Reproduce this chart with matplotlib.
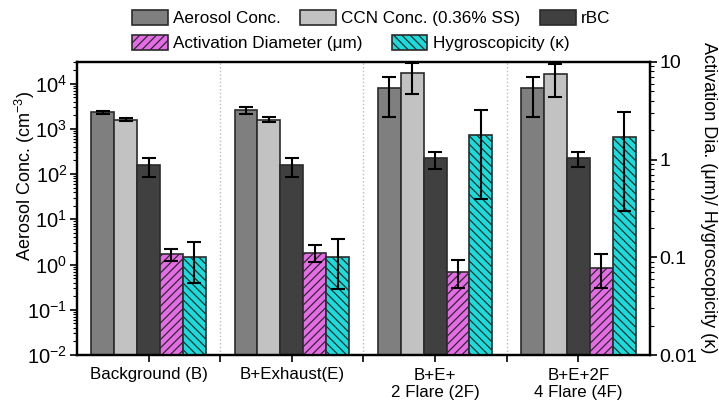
import matplotlib
matplotlib.use("Agg")
import matplotlib.pyplot as plt
from matplotlib.patches import Patch
from matplotlib.ticker import FixedLocator, LogLocator, NullFormatter
import numpy as np

plt.rcParams['font.family'] = ['Liberation Sans', 'DejaVu Sans']
plt.rcParams['mathtext.fontset'] = 'custom'
plt.rcParams['mathtext.rm'] = 'Liberation Sans'
plt.rcParams['mathtext.it'] = 'Liberation Sans:italic'
plt.rcParams['hatch.linewidth'] = 0.9

# scenarios
groups = ["Background (B)", "B+Exhaust(E)", "B+E+\n2 Flare (2F)", "B+E+2F\n4 Flare (4F)"]

# concentrations (cm^-3), left axis
aerosol = [2300, 2600, 7800, 7800]
aerosol_err = [200, 500, 6000, 6000]
ccn = [1600, 1600, 16800, 16000]
ccn_err = [100, 200, 11000, 11000]
rbc = [155, 155, 222, 222]
rbc_err = [70, 70, 90, 80]

# activation diameter (um) and kappa, right axis
act_dia = [0.107, 0.111, 0.071, 0.078]
act_dia_err = [0.016, 0.022, 0.022, 0.03]
kappa = [0.10, 0.10, 1.8, 1.7]
kappa_err = [0.045, 0.053, 1.4, 1.4]

c_aer = "#7f7f7f"
c_ccn = "#c2c2c2"
c_rbc = "#404040"
c_act = "#e66be6"
c_kap = "#19dcdc"
edge = "#2b2b2b"

fig = plt.figure(figsize=(7.19, 4.0), dpi=100)
ax = fig.add_axes([0.107, 0.1125, 0.797, 0.7325])
ax2 = ax.twinx()

x = np.arange(len(groups))
w = 0.16
ekw = dict(elinewidth=1.5, capthick=1.5, ecolor="black")
cap = 5

ax.bar(x - 2 * w, aerosol, w, yerr=aerosol_err, color=c_aer, edgecolor=edge,
       linewidth=1.2, capsize=cap, error_kw=ekw)
ax.bar(x - w, ccn, w, yerr=ccn_err, color=c_ccn, edgecolor=edge,
       linewidth=1.2, capsize=cap, error_kw=ekw)
ax.bar(x, rbc, w, yerr=rbc_err, color=c_rbc, edgecolor=edge,
       linewidth=1.2, capsize=cap, error_kw=ekw)
ax2.bar(x + w, act_dia, w, yerr=act_dia_err, color=c_act, edgecolor=edge,
        hatch="////", linewidth=1.2, capsize=cap, error_kw=ekw)
ax2.bar(x + 2 * w, kappa, w, yerr=kappa_err, color=c_kap, edgecolor=edge,
        hatch="\\\\\\\\", linewidth=1.2, capsize=cap, error_kw=ekw)

# dotted separators between scenarios
for s in [0.5, 1.5, 2.5]:
    ax.axvline(s, color="#bbbbbb", linestyle=":", linewidth=1.0, zorder=0)

ax.set_yscale("log")
ax.set_ylim(0.01, 3e4)
ax2.set_yscale("log")
ax2.set_ylim(0.01, 10)
ax.set_xlim(-0.5, 3.5)

ax.set_yticks([1e-2, 1e-1, 1, 10, 100, 1e3, 1e4])
ax.set_yticklabels(["$10^{-2}$", "$10^{-1}$", "$10^{0}$", "$10^{1}$",
                    "$10^{2}$", "$10^{3}$", "$10^{4}$"])
ax.yaxis.set_minor_locator(LogLocator(base=10, subs=np.arange(2, 10), numticks=20))
ax.yaxis.set_minor_formatter(NullFormatter())
ax2.set_yticks([0.01, 0.1, 1, 10])
ax2.set_yticklabels(["0.01", "0.1", "1", "10"])
ax2.yaxis.set_minor_locator(LogLocator(base=10, subs=np.arange(2, 10), numticks=20))
ax2.yaxis.set_minor_formatter(NullFormatter())

ax.set_xticks(x)
ax.set_xticklabels(groups, fontsize=12.2)
ax.xaxis.set_minor_locator(FixedLocator([0.5, 1.5, 2.5]))

ax.tick_params(axis="y", which="major", labelsize=14.5, length=5, width=1.2,
               direction="out", pad=2)
ax.tick_params(axis="y", which="minor", length=3, width=0.8, direction="out")
ax.tick_params(axis="x", which="both", length=5, width=1.2, direction="out", pad=4)
ax2.tick_params(axis="y", which="major", labelsize=14, length=5, width=1.2,
                direction="out", pad=2)
ax2.tick_params(axis="y", which="minor", length=3, width=0.8, direction="out")

for a in (ax, ax2):
    for sp in a.spines.values():
        sp.set_linewidth(1.6)

fig.text(25 / 719, 1 - 176 / 400, "Aerosol Conc. (cm$^{-3}$)", fontsize=13,
         rotation=90, ha="center", va="center")
fig.text(708 / 719, 1 - 198 / 400, "Activation Dia. (μm)/ Hygroscopicity (κ)",
         fontsize=13, rotation=270, ha="center", va="center")

# legend, two rows
h1 = [Patch(facecolor=c_aer, edgecolor=edge, linewidth=1.2),
      Patch(facecolor=c_ccn, edgecolor=edge, linewidth=1.2),
      Patch(facecolor=c_rbc, edgecolor=edge, linewidth=1.2)]
l1 = ["Aerosol Conc.", "CCN Conc. (0.36% SS)", "rBC"]
h2 = [Patch(facecolor=c_act, edgecolor=edge, hatch="////", linewidth=1.2),
      Patch(facecolor=c_kap, edgecolor=edge, hatch="\\\\\\\\", linewidth=1.2)]
l2 = ["Activation Diameter (μm)", "Hygroscopicity (κ)"]

lkw = dict(frameon=False, fontsize=12.3, handlelength=2.1, handleheight=1.0,
           handletextpad=0.3, borderpad=0, borderaxespad=0, loc="upper left")
fig.legend(h1, l1, ncol=3, columnspacing=1.15,
           bbox_to_anchor=(132 / 719, 1 - 10 / 400), **lkw)
fig.legend(h2, l2, ncol=2, columnspacing=1.7,
           bbox_to_anchor=(132 / 719, 1 - 35 / 400), **lkw)

fig.savefig("out.png", dpi=100)
